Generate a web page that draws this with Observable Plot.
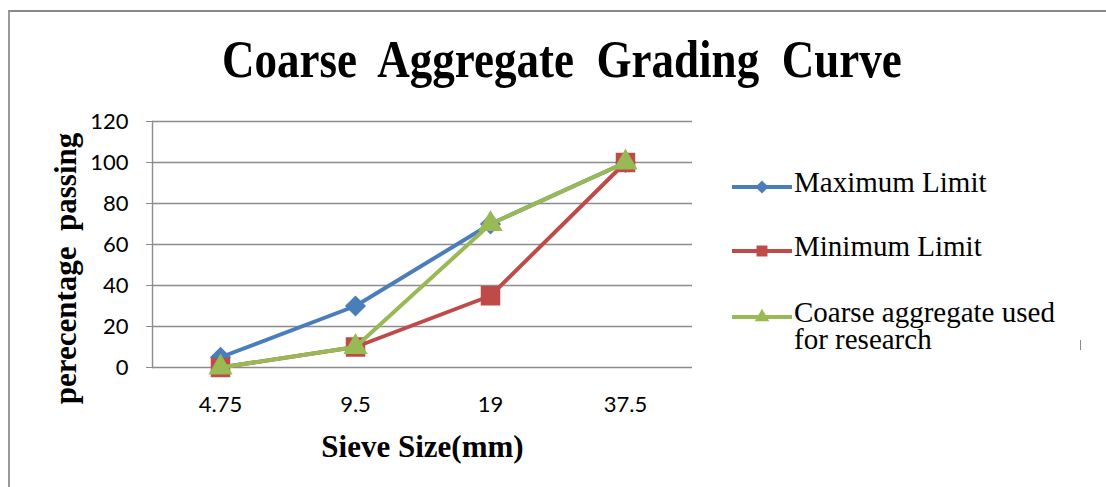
<!DOCTYPE html>
<html>
<head>
<meta charset="utf-8">
<script src="https://cdn.jsdelivr.net/npm/d3@7"></script>
<script src="https://cdn.jsdelivr.net/npm/@observablehq/plot@0.6"></script>
<style>
  html, body { margin: 0; padding: 0; background: #fff; }
  #chart { position: relative; width: 1106px; height: 487px; overflow: hidden; background: #fff; }
  #frame { position: absolute; left: 8px; top: 10px; width: 1200px; height: 600px;
           border-top: 2px solid #898989; border-left: 2px solid #9a9a9a; box-sizing: border-box; }
  #title { position: absolute; left: 0; top: 23px; width: 1106px; text-align: center;
           font-family: "Liberation Serif", serif; font-weight: bold; font-size: 53px;
           line-height: 72px; white-space: pre; }
  #title span { display: inline-block; transform: scaleX(0.85); transform-origin: 50% 50%; margin-left: 18px; }
  #plot { position: absolute; left: 0; top: 0; }
  #plot svg text { white-space: pre; }
  #legend { position: absolute; left: 730px; top: 169px; color: #000; }
  .row { position: absolute; left: 0; display: flex; align-items: flex-start; }
  .row svg { flex: none; margin-top: 5px; }
  .row .lab { width: 285px; line-height: 27px; margin-left: 2px;
              font-family: "Liberation Serif", "DejaVu Serif", serif !important; font-size: 29px; }
  #stray { position: absolute; left: 1080px; top: 340px; width: 1px; height: 10px; background: #8a8a8a; }
</style>
</head>
<body>
<div id="chart">
  <div id="frame"></div>
  <div id="plot"></div>
  <div id="title"><span></span></div>
  <div id="legend"></div>
  <div id="stray"></div>
</div>
<script>
// Sieve sizes (mm) along the x axis
const sieves = ["4.75", "9.5", "19", "37.5"];
// Percentage passing for each grading series
const maxLimit = [5, 30, 70, 100];
const minLimit = [0, 10, 35, 100];
const coarseUsed = [0, 10, 70, 100];
const yTicks = [0, 20, 40, 60, 80, 100, 120];

const seriesNames = ["Maximum Limit", "Minimum Limit", "Coarse aggregate used for research"];
const seriesValues = [maxLimit, minLimit, coarseUsed];
const seriesColors = ["#4a7ebb", "#be4b48", "#98b954"];
const seriesSymbols = ["diamond2", "square", "triangle"];
const seriesRadius = [9.5, 11, 9];

const titleText = "Coarse  Aggregate  Grading  Curve";
const xLabel = "Sieve Size(mm)";
const yLabel = "perecentage  passing";

document.querySelector("#title span").textContent = titleText;

const rows = seriesNames.flatMap((name, i) =>
  sieves.map((s, j) => ({series: name, sieve: s, value: seriesValues[i][j]}))
);

const seriesMarks = seriesNames.flatMap((name, i) => {
  const data = rows.filter(d => d.series === name);
  return [
    Plot.line(data, {x: "sieve", y: "value", stroke: seriesColors[i], strokeWidth: 4}),
    Plot.dot(data, {x: "sieve", y: "value", symbol: seriesSymbols[i], r: seriesRadius[i],
                    fill: seriesColors[i], stroke: "none"})
  ];
});

const plot = Plot.plot({
  width: 1106,
  height: 487,
  marginLeft: 152,
  marginRight: 414,
  marginTop: 121,
  marginBottom: 120,
  style: {fontFamily: "Lato, sans-serif", fontSize: "22px", color: "#000", background: "transparent"},
  x: {type: "point", domain: sieves, padding: 0.5},
  y: {domain: [0, 120]},
  marks: [
    Plot.gridY(yTicks, {stroke: "#8c8c8c", strokeOpacity: 1, strokeWidth: 1.4}),
    Plot.frame({anchor: "left", stroke: "#8c8c8c", strokeWidth: 1.4}),
    Plot.axisY({ticks: yTicks, tickSize: 6, tickPadding: 18, label: null, stroke: "#8c8c8c", fill: "#000"}),
    Plot.axisX({tickSize: 0, tickPadding: 29, label: null, fill: "#000"}),
    ...seriesMarks,
    Plot.text([yLabel], {frameAnchor: "left", dx: -86, dy: 24, rotate: -90,
      fontFamily: "Liberation Serif, serif", fontWeight: "bold", fontSize: 31,
      textAnchor: "middle", lineAnchor: "middle", fill: "#000"}),
    Plot.text([xLabel], {frameAnchor: "bottom", dy: 80,
      fontFamily: "Liberation Serif, serif", fontWeight: "bold", fontSize: 31,
      textAnchor: "middle", lineAnchor: "middle", fill: "#000"})
  ]
});
document.getElementById("plot").appendChild(plot);

// Legend: line sample with marker, then the series name
const legend = d3.select("#legend");
const rowTops = [0, 64, 130];
seriesNames.forEach((name, i) => {
  const row = legend.append("div").attr("class", "row").style("top", rowTops[i] + "px");
  const svg = row.append("svg").attr("width", 62).attr("height", 26);
  svg.append("line").attr("x1", 2).attr("x2", 62).attr("y1", 13).attr("y2", 13)
    .attr("stroke", seriesColors[i]).attr("stroke-width", 4);
  const sym = {diamond2: d3.symbolDiamond2, square: d3.symbolSquare, triangle: d3.symbolTriangle}[seriesSymbols[i]];
  svg.append("path").attr("transform", "translate(32,13)")
    .attr("d", d3.symbol(sym, [110, 120, 90][i])()).attr("fill", seriesColors[i]);
  row.append("div").attr("class", "lab").text(name);
});
</script>
</body>
</html>
